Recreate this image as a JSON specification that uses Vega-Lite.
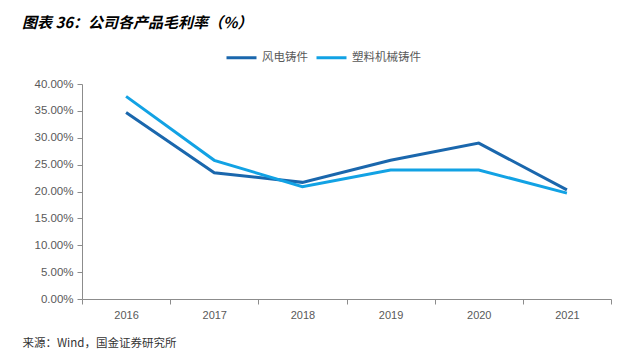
{
  "$schema": "https://vega.github.io/schema/vega-lite/v6.json",
  "autosize": "none",
  "width": 529,
  "height": 215,
  "padding": {"left": 82, "top": 84, "right": 30, "bottom": 57},
  "background": "white",
  "title": {
    "text": "图表 36：公司各产品毛利率（%）",
    "anchor": "start",
    "frame": "group",
    "dx": -60,
    "offset": 10,
    "font": "Noto Sans CJK SC",
    "fontSize": 15,
    "fontWeight": "bold",
    "fontStyle": "italic",
    "color": "#000000"
  },
  "data": {
    "values": [
      {"year": "2016", "series": "风电铸件", "value": 0.347},
      {"year": "2017", "series": "风电铸件", "value": 0.235},
      {"year": "2018", "series": "风电铸件", "value": 0.217},
      {"year": "2019", "series": "风电铸件", "value": 0.258},
      {"year": "2020", "series": "风电铸件", "value": 0.290},
      {"year": "2021", "series": "风电铸件", "value": 0.203},
      {"year": "2016", "series": "塑料机械铸件", "value": 0.377},
      {"year": "2017", "series": "塑料机械铸件", "value": 0.258},
      {"year": "2018", "series": "塑料机械铸件", "value": 0.209},
      {"year": "2019", "series": "塑料机械铸件", "value": 0.240},
      {"year": "2020", "series": "塑料机械铸件", "value": 0.240},
      {"year": "2021", "series": "塑料机械铸件", "value": 0.197}
    ]
  },
  "mark": {"type": "line", "strokeWidth": 3},
  "encoding": {
    "x": {
      "field": "year",
      "type": "ordinal",
      "bandPosition": 0.5,
      "scale": {"type": "band", "paddingInner": 0, "paddingOuter": 0},
      "axis": {
        "title": "来源：Wind，国金证券研究所",
        "titleAnchor": "start",
        "titleX": -60,
        "titleY": 44,
        "titleFont": "Noto Sans CJK SC",
        "titleFontSize": 11.5,
        "titleFontWeight": "normal",
        "titleColor": "#333333",
        "titleBaseline": "middle",
        "labelAngle": 0,
        "labelFont": "Liberation Sans",
        "labelFontSize": 11,
        "labelColor": "#595959",
        "labelPadding": 5,
        "tickBand": "extent",
        "tickSize": 5,
        "tickColor": "#8c8c8c",
        "domainColor": "#8c8c8c",
        "grid": false
      }
    },
    "y": {
      "field": "value",
      "type": "quantitative",
      "scale": {"domain": [0, 0.4], "nice": false},
      "axis": {
        "title": null,
        "format": ".2%",
        "values": [0, 0.05, 0.1, 0.15, 0.2, 0.25, 0.3, 0.35, 0.4],
        "labelFont": "Liberation Sans",
        "labelFontSize": 11.5,
        "labelColor": "#595959",
        "labelPadding": 4,
        "tickSize": 5,
        "tickColor": "#8c8c8c",
        "domainColor": "#8c8c8c",
        "grid": false
      }
    },
    "color": {
      "field": "series",
      "type": "nominal",
      "sort": ["风电铸件", "塑料机械铸件"],
      "scale": {"domain": ["风电铸件", "塑料机械铸件"], "range": ["#1a67ad", "#12a2e4"]},
      "legend": {
        "title": null,
        "orient": "none",
        "direction": "horizontal",
        "legendX": 143,
        "legendY": -43,
        "symbolType": "stroke",
        "symbolSize": 900,
        "symbolStrokeWidth": 3,
        "labelFont": "Noto Sans CJK SC",
        "labelFontSize": 11.5,
        "labelColor": "#595959",
        "labelOffset": 4,
        "columnPadding": 2
      }
    }
  },
  "config": {"view": {"stroke": null}}
}
